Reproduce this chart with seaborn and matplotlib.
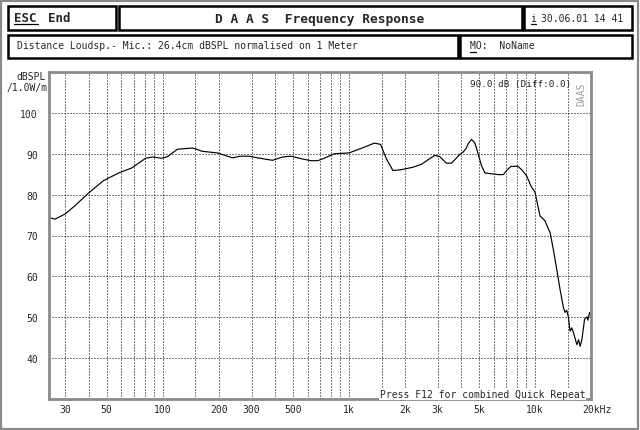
import numpy as np
import pandas as pd
import matplotlib
matplotlib.use("Agg")
import matplotlib.pyplot as plt
from matplotlib.patches import Rectangle
from matplotlib.lines import Line2D
from matplotlib.ticker import NullFormatter
from matplotlib.transforms import ScaledTranslation
import seaborn as sns

# ---------------- data ----------------
freq_hz = [24.5, 26.4, 30, 33.8, 40, 48, 58, 68, 81, 88, 99, 106, 120, 144, 150, 163,
           197, 237, 262, 291, 323, 365, 389, 440, 488, 553, 626, 680, 738, 835,
           1000, 1030, 1210, 1370, 1480, 1590, 1725, 1910, 2210, 2450, 2890, 3080,
           3340, 3560, 3940, 4110, 4280, 4380, 4560, 4750, 4950, 5160, 5380, 5840,
           6350, 6760, 7040, 7430, 7800, 8070, 8480, 9020, 9520, 10000, 10640, 11320,
           11810, 12050, 12560, 13090, 13640, 14230, 14510, 14820, 15140, 15440,
           15770, 16110, 16790, 17150, 17490, 17860, 18470, 19000, 19240, 19650, 19970]
level_db = [74.4, 74.0, 75.3, 77.3, 80.4, 83.4, 85.3, 86.5, 88.9, 89.2, 88.9, 89.3, 91.1, 91.4, 91.2, 90.6,
            90.2, 89.0, 89.4, 89.4, 89.0, 88.6, 88.4, 89.2, 89.4, 88.8, 88.3, 88.3, 88.9, 90.0,
            90.2, 90.4, 91.6, 92.6, 92.3, 88.8, 85.9, 86.1, 86.7, 87.4, 89.6, 89.3,
            87.7, 87.7, 89.8, 90.4, 91.4, 92.5, 93.5, 92.7, 90.0, 87.1, 85.3, 85.1,
            84.9, 84.9, 85.9, 86.9, 86.9, 87.0, 86.1, 84.6, 82.1, 80.6, 74.8, 73.6,
            71.6, 70.8, 66.5, 61.7, 56.8, 52.3, 51.2, 51.7, 49.9, 46.6,
            47.4, 46.2, 43.3, 44.5, 42.9, 44.5, 49.5, 50.1, 49.3, 51.2, 50.4]

x_tick_values = [30, 50, 100, 200, 300, 500, 1000, 2000, 3000, 5000, 10000, 20000]
x_tick_labels = ["30", "50", "100", "200", "300", "500", "1k", "2k", "3k", "5k", "10k", "20kHz"]
x_grid_values = [30, 40, 50, 60, 70, 80, 90, 100, 150, 200, 300, 400, 500, 600, 700, 800, 900,
                 1000, 1500, 2000, 3000, 4000, 5000, 6000, 7000, 8000, 9000, 10000, 15000]
y_tick_values = [40, 50, 60, 70, 80, 90, 100]
y_tick_labels = ["40", "50", "60", "70", "80", "90", "100"]

title_text = "D A A S  Frequency Response"
info_text = "Distance Loudsp.- Mic.: 26.4cm dBSPL normalised on 1 Meter"
date_text = "30.06.01 14 41"
marker_text = "90.0 dB (Diff:0.0)"
footer_text = "Press F12 for combined Quick Repeat"

# ---------------- style ----------------
sns.set_style("white")
plt.rcParams['font.family'] = ['DejaVu Sans Mono', 'DejaVu Sans']

W, H = 640, 431
fig = plt.figure(figsize=(6.4, 4.31), dpi=100)
fig.patch.set_facecolor("white")

def fx(x):
    return x / W

def fy(y):
    return 1 - y / H

# outer frame
fig.patches.append(Rectangle((fx(1), fy(429.5)), (638 - 1) / W, (429.5 - 1.5) / H,
                             transform=fig.transFigure, fill=False,
                             edgecolor="#8a8a8a", lw=1.6))

# header boxes
boxes = [(8, 7, 116, 31), (118.5, 7, 521.5, 31), (523.5, 7, 632, 31),
         (8, 36, 457.5, 58.5), (460, 36, 632, 58.5)]
for x0, y0, x1, y1 in boxes:
    fig.patches.append(Rectangle((fx(x0), fy(y1)), (x1 - x0) / W, (y1 - y0) / H,
                                 transform=fig.transFigure, fill=False,
                                 edgecolor="black", lw=1.8))

fig.text(fx(14), fy(19), "ESC", fontsize=9, fontweight="bold", ha="left", va="center")
fig.text(fx(48), fy(19), "End", fontsize=9, fontweight="bold", ha="left", va="center")
fig.add_artist(Line2D([fx(14), fx(37.5)], [fy(25), fy(25)], color="black", lw=0.9,
                      transform=fig.transFigure))
fig.text(fx(320), fy(19.5), title_text, fontsize=9.3, fontweight="bold", ha="center", va="center")
fig.text(fx(530.5), fy(18.5), "i", fontsize=7, ha="left", va="center")
fig.add_artist(Line2D([fx(530.5), fx(535.5)], [fy(25), fy(25)], color="black", lw=0.9,
                      transform=fig.transFigure))
fig.text(fx(541), fy(18.5), date_text, fontsize=7, ha="left", va="center")
fig.text(fx(17), fy(46.5), info_text, fontsize=7, ha="left", va="center")
fig.text(fx(469.5), fy(46.5), "MO:  NoName", fontsize=7, ha="left", va="center")
fig.add_artist(Line2D([fx(469.5), fx(475.5)], [fy(52.5), fy(52.5)], color="black", lw=0.9,
                      transform=fig.transFigure))

# ---------------- axes ----------------
ax = fig.add_axes([fx(49), fy(400), (591 - 49) / W, (400 - 73) / H])
df = pd.DataFrame({"freq": freq_hz, "level": level_db})
sns.lineplot(data=df, x="freq", y="level", ax=ax, color="black", lw=0.85,
             estimator=None, sort=False)
ax.set_xscale("log")
ax.set_xlim(24.5, 20000)
ax.set_ylim(30, 110)
ax.set_xticks(x_tick_values)
ax.set_xticklabels(x_tick_labels)
ax.set_xticks(x_grid_values, minor=True)
ax.xaxis.set_minor_formatter(NullFormatter())
ax.xaxis.remove_overlapping_locs = False
ax.set_yticks(y_tick_values)
ax.set_yticklabels(y_tick_labels)
ax.tick_params(which="both", length=0)
ax.tick_params(axis="x", pad=3.5, labelsize=7)
ax.tick_params(axis="y", pad=8, labelsize=7)
ax.grid(False)
ax.grid(True, which="minor", axis="x", color="black", lw=0.72, ls=(0, (1, 2)))
ax.grid(True, which="major", axis="y", color="black", lw=0.72, ls=(0, (1, 2)))
ax.set_xlabel("")
ax.set_ylabel("")
for s in ax.spines.values():
    s.set_color("#8a8a8a")
    s.set_linewidth(2)

lbl = ax.get_xticklabels()[-1]
lbl.set_horizontalalignment("left")
lbl.set_transform(lbl.get_transform() + ScaledTranslation(-0.09, 0, fig.dpi_scale_trans))

# axis unit label
fig.text(fx(46), fy(77), "dBSPL", fontsize=7, ha="right", va="center")
fig.text(fx(48), fy(88), "/1.0W/m", fontsize=7, ha="right", va="center")

# annotations inside plot
fig.text(fx(470.5), fy(85), marker_text, fontsize=6.7, ha="left", va="center")
fig.text(fx(581.5), fy(94), "DAAS", fontsize=7, rotation=90, color="#9a9a9a",
         ha="center", va="center")
fig.text(fx(380), fy(395), footer_text, fontsize=7, ha="left", va="center",
         bbox=dict(facecolor="white", edgecolor="none", pad=0.5))

fig.savefig("out.png", dpi=100, facecolor="white")
